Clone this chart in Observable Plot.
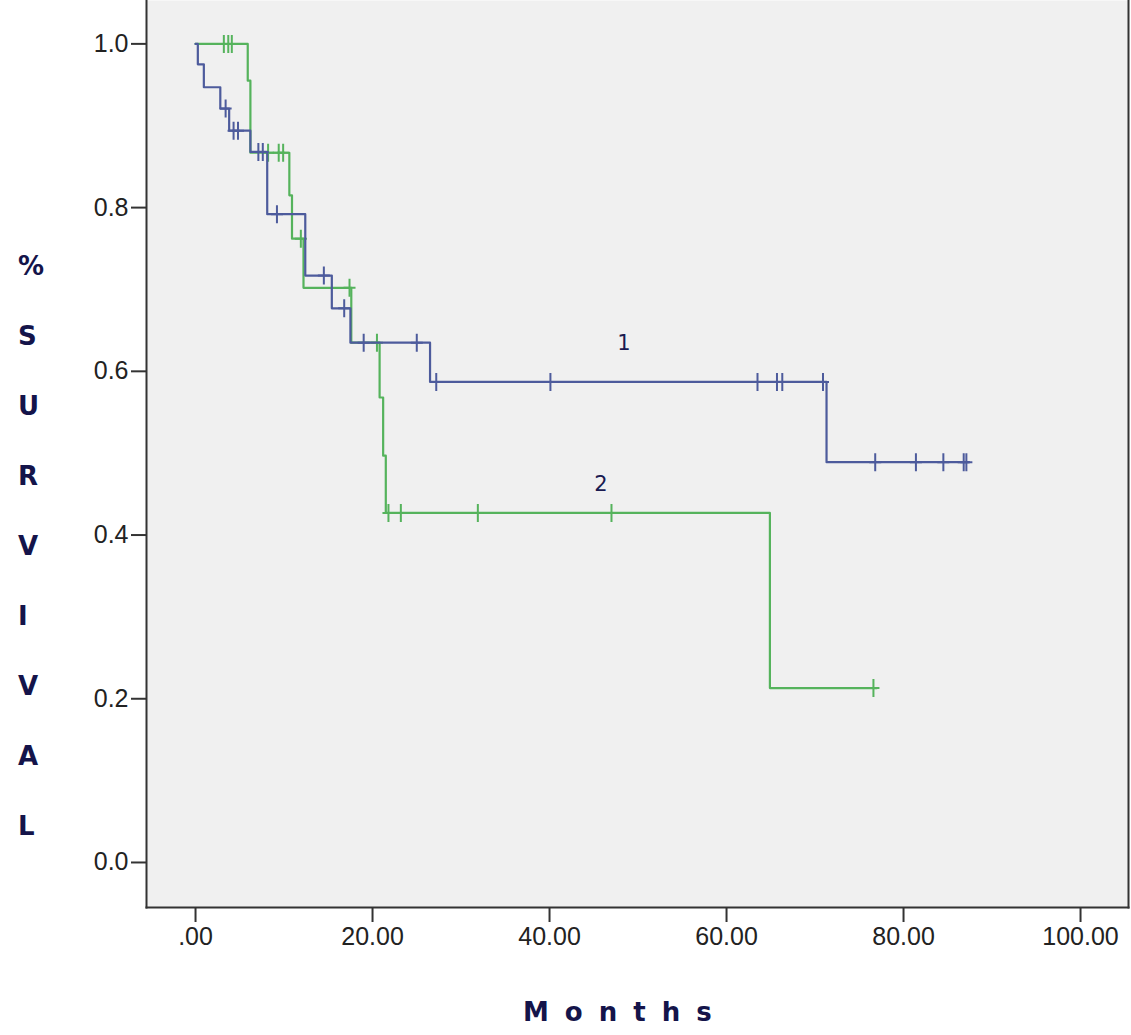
<!DOCTYPE html>
<html><head><meta charset="utf-8">
<script src="https://cdn.jsdelivr.net/npm/d3@7"></script>
<script src="https://cdn.jsdelivr.net/npm/@observablehq/plot@0.6"></script>
<style>body{margin:0;background:#fff;}</style>
</head><body><div id="chart"></div>
<script>
// Group 1 (blue) Kaplan-Meier steps
const group1Time = [0, 0.26, 0.94, 2.8, 3.8, 6.2, 8.1, 12.4, 15.4, 17.5, 26.5, 71.3, 87.4];
const group1Surv = [1, 0.975, 0.947, 0.921, 0.894, 0.868, 0.792, 0.717, 0.677, 0.635, 0.587, 0.489, 0.489];
const group1CensorTime = [3.4, 4.3, 4.8, 7.1, 7.6, 9.2, 14.5, 16.8, 19.0, 25.0, 27.2, 40.1, 63.5, 65.7, 66.3, 70.9, 76.8, 81.4, 84.5, 86.8, 87.1];
const group1CensorSurv = [0.921, 0.894, 0.894, 0.868, 0.868, 0.792, 0.717, 0.677, 0.635, 0.635, 0.587, 0.587, 0.587, 0.587, 0.587, 0.587, 0.489, 0.489, 0.489, 0.489, 0.489];

// Group 2 (green)
const group2Time = [0, 5.9, 6.2, 10.6, 10.9, 12.2, 17.6, 20.8, 21.2, 21.5, 64.9, 77.0];
const group2Surv = [1, 0.955, 0.867, 0.815, 0.762, 0.702, 0.635, 0.568, 0.497, 0.427, 0.213, 0.213];
const group2CensorTime = [3.2, 3.7, 4.1, 8.2, 9.4, 9.9, 11.9, 17.4, 20.5, 21.8, 23.2, 31.9, 47.0, 76.6];
const group2CensorSurv = [1, 1, 1, 0.867, 0.867, 0.867, 0.762, 0.702, 0.635, 0.427, 0.427, 0.427, 0.427, 0.213];

// Curve labels
const curveLabels = ["1", "2"];
const curveLabelTime = [48.4, 45.8];
const curveLabelSurv = [0.634, 0.4615];

const xTicks = [0, 20, 40, 60, 80, 100];
const yTicks = [0, 0.2, 0.4, 0.6, 0.8, 1.0];
const yTitleLetters = ["%", "S", "U", "R", "V", "I", "V", "A", "L"];
const xTitle = "Months";

const blue = "#4d5b9c";
const green = "#55b35c";

const g1 = group1Time.map((t, i) => ({t, s: group1Surv[i]}));
const g2 = group2Time.map((t, i) => ({t, s: group2Surv[i]}));
const c1 = group1CensorTime.map((t, i) => ({t, s: group1CensorSurv[i]}));
const c2 = group2CensorTime.map((t, i) => ({t, s: group2CensorSurv[i]}));
const labs = curveLabels.map((text, i) => ({text, t: curveLabelTime[i], s: curveLabelSurv[i]}));

const plusSymbol = {draw(ctx) { ctx.moveTo(-6, 0); ctx.lineTo(6, 0); ctx.moveTo(0, -9); ctx.lineTo(0, 9); }};

const chart = Plot.plot({
  width: 1131,
  height: 1035,
  marginLeft: 146,
  marginRight: 3,
  marginTop: 0,
  marginBottom: 128,
  style: {background: "#fff", fontFamily: "'Liberation Sans', Arial, sans-serif"},
  x: {domain: [-5.54, 105.42]},
  y: {domain: [-0.055, 1.053]},
  marks: [
    Plot.frame({fill: "#f0f0f0", stroke: null}),
    Plot.frame({anchor: "left", stroke: "#333", strokeWidth: 2}),
    Plot.frame({anchor: "bottom", stroke: "#333", strokeWidth: 2}),
    Plot.frame({anchor: "right", stroke: "#333", strokeWidth: 2}),
    Plot.axisX({ticks: xTicks, tickSize: 15, tickPadding: 5, fontSize: 25, label: null,
      tickFormat: d => d === 0 ? ".00" : d.toFixed(2), stroke: "#333", strokeWidth: 2, fill: "#222"}),
    Plot.axisY({ticks: yTicks, tickSize: 15, tickPadding: 3, fontSize: 25, label: null,
      tickFormat: d => d.toFixed(1), stroke: "#333", strokeWidth: 2, fill: "#222"}),
    Plot.line(g2, {x: "t", y: "s", curve: "step-after", stroke: green, strokeWidth: 2.2}),
    Plot.dot(c2, {x: "t", y: "s", symbol: plusSymbol, fill: "none", stroke: green, strokeWidth: 2}),
    Plot.line(g1, {x: "t", y: "s", curve: "step-after", stroke: blue, strokeWidth: 2.2}),
    Plot.dot(c1, {x: "t", y: "s", symbol: plusSymbol, fill: "none", stroke: blue, strokeWidth: 2}),
    Plot.text(labs, {x: "t", y: "s", text: "text", fontSize: 21, fill: "#1a1a50",
      fontFamily: "'DejaVu Sans', sans-serif"})
  ]
});

const svg = d3.select(chart);
svg.selectAll(".yt").data(yTitleLetters).join("text")
  .attr("x", 18).attr("y", (d, i) => 275 + i * 70)
  .attr("text-anchor", "start")
  .attr("font-family", "'DejaVu Sans', Verdana, sans-serif")
  .attr("font-weight", "bold").attr("font-size", 26).attr("fill", "#14144a")
  .text(d => d);
svg.append("text")
  .attr("x", 523).attr("y", 1021)
  .attr("text-anchor", "start")
  .attr("font-family", "'DejaVu Sans', Verdana, sans-serif")
  .attr("font-weight", "bold").attr("font-size", 26).attr("fill", "#14144a")
  .attr("letter-spacing", 16)
  .text(xTitle);

document.getElementById("chart").appendChild(chart);
</script>
</body></html>
